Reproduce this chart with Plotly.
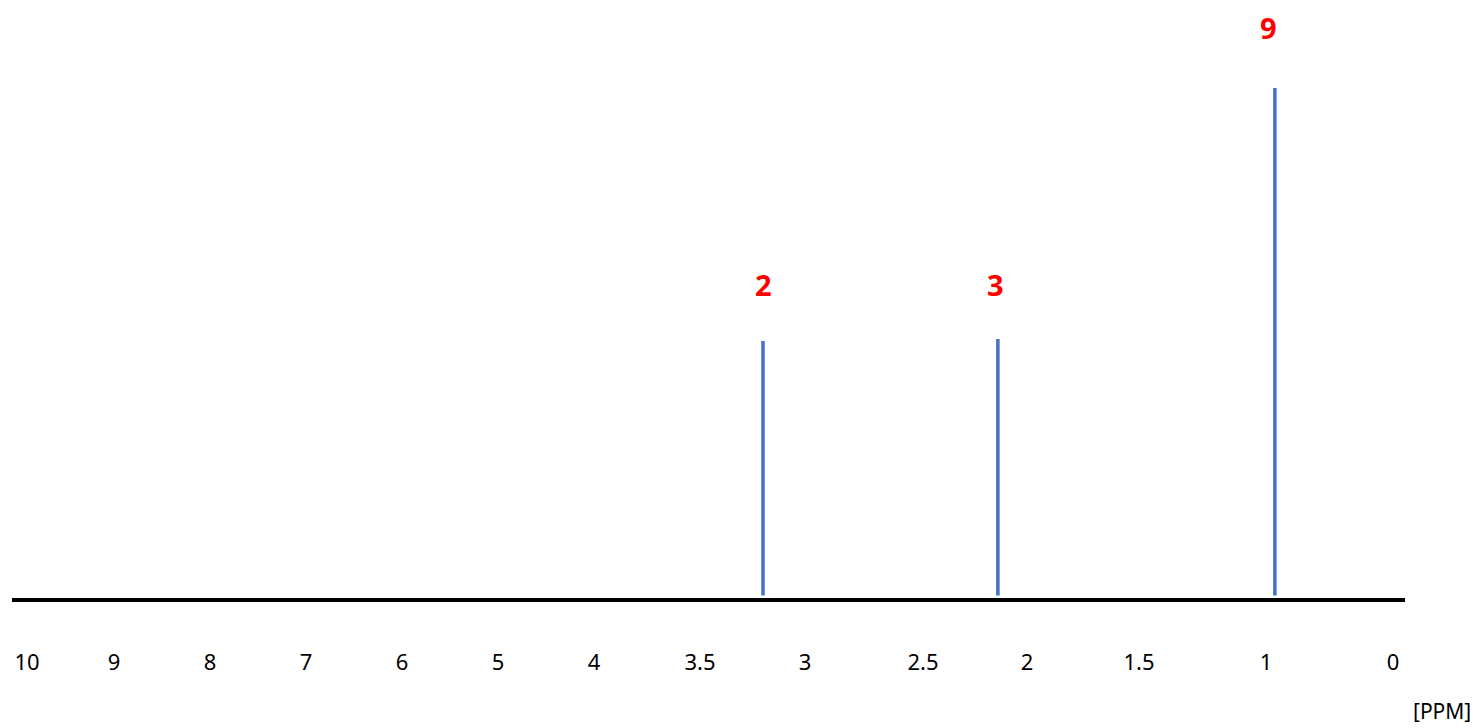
import numpy as np
import plotly.graph_objects as go

# Axis tick labels (ppm) and their layout positions along the drawn axis
tick_ppm = [10, 9, 8, 7, 6, 5, 4, 3.5, 3, 2.5, 2, 1.5, 1, 0]
tick_text = ["10", "9", "8", "7", "6", "5", "4", "3.5", "3", "2.5", "2", "1.5", "1", "0"]
tick_layout = [27, 114, 210, 306, 402, 498, 594, 700, 805, 923, 1027, 1139, 1266, 1393]

# Peaks
peak_ppm = [3.2, 2.14, 0.93]
peak_height = [0.504, 0.508, 1.0]
peak_label = ["2", "3", "9"]

# label placement (style): vertical gap above each peak and horizontal nudge, in px
label_gap = [56, 54, 61]
label_dx = [0, -2, -6]

# map ppm -> axis coordinate (piecewise, as drawn)
tp = np.array(tick_ppm[::-1], dtype=float)
tl = np.array(tick_layout[::-1], dtype=float)
peak_x = np.interp(peak_ppm, tp, tl)

xs, ys = [], []
for px, h in zip(peak_x, peak_height):
    xs += [px, px, None]
    ys += [0.005, h, None]

W, H = 1470, 718
L, R_EDGE = 4, 1397
BOT = 590

fig = go.Figure()
fig.add_trace(go.Scatter(x=xs, y=ys, mode="lines",
                         line=dict(color="#4472C4", width=3.5),
                         hoverinfo="skip", showlegend=False))

for px, h, lab, gap, dx in zip(peak_x, peak_height, peak_label, label_gap, label_dx):
    fig.add_annotation(x=px, y=h, text="<b>%s</b>" % lab, showarrow=False,
                       yanchor="middle", yshift=gap, xshift=dx,
                       font=dict(family="Open Sans", size=29, color="#FF0000"))

fig.add_annotation(xref="paper", yref="paper",
                   x=(1434 - L) / (R_EDGE - L), y=(BOT - 703) / BOT,
                   text="[PPM]", showarrow=False, xanchor="center", yanchor="middle",
                   borderpad=0,
                   font=dict(family="Noto Sans", size=21, color="#000000"))

fig.update_layout(
    width=W, height=H,
    margin=dict(l=L, r=W - R_EDGE, t=0, b=H - BOT, pad=0),
    paper_bgcolor="white", plot_bgcolor="white",
    showlegend=False,
    xaxis=dict(range=[12, 1405], tickmode="array", tickvals=tick_layout, ticktext=tick_text,
               showgrid=False, zeroline=False, showline=True, linecolor="black", linewidth=4,
               ticks="", ticklabelstandoff=42,
               tickfont=dict(family="Noto Sans", size=22, color="#000000"),
               fixedrange=True),
    yaxis=dict(range=[0, BOT / 510], visible=False, showgrid=False, zeroline=False,
               fixedrange=True),
)

fig.write_html("out.html")
